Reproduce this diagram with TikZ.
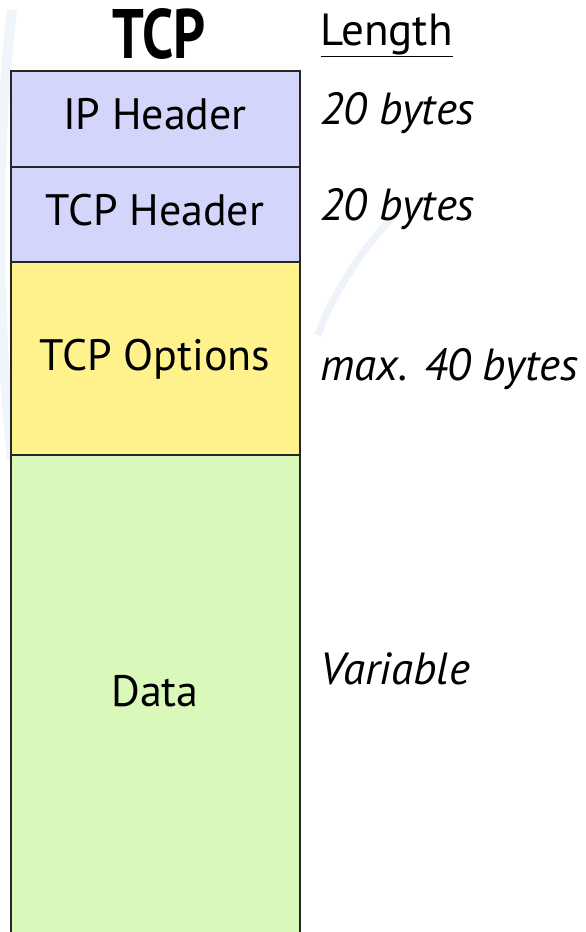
\documentclass[tikz,border=0pt]{standalone}
\usepackage{fontspec}
\setmainfont{PT Sans}
\newfontfamily\titlefont{PT Sans}[FakeStretch=0.8]
\begin{document}
\begin{tikzpicture}[x=1pt,y=-1pt,
  seg/.style={draw=black!85,line width=1.3pt,minimum width=289pt,inner sep=0pt,outer sep=0pt},
  segtext/.style={font=\fontsize{44}{52}\selectfont,anchor=base},
  lentext/.style={font=\fontsize{45}{53}\selectfont\itshape,anchor=base west}]
\definecolor{hdrblue}{RGB}{212,213,250}
\definecolor{optyellow}{RGB}{255,242,140}
\definecolor{datagreen}{RGB}{217,248,186}
\definecolor{swoosh}{RGB}{205,222,240}
\useasboundingbox (0,0) rectangle (586,932);
\fill[white] (0,0) rectangle (586,932);
% faint background swooshes
\draw[swoosh,line width=10pt,opacity=0.3] (12,10) .. controls (-4,150) and (-4,300) .. (12,460);
\draw[swoosh,line width=7pt,opacity=0.35] (395,215) .. controls (360,250) and (330,300) .. (318,335);
% segments
\node[seg,fill=hdrblue,minimum height=96pt,anchor=north west] (ip) at (11,71) {};
\node[seg,fill=hdrblue,minimum height=95pt,anchor=north west] (tcph) at (ip.south west) {};
\node[seg,fill=optyellow,minimum height=193pt,anchor=north west] (opt) at (tcph.south west) {};
\node[fill=datagreen,minimum width=289pt,minimum height=490pt,inner sep=0pt,outer sep=0pt,anchor=north west] (data) at (opt.south west) {};
\draw[black!85,line width=1.3pt] (data.south west) -- (data.north west) -- (data.north east) -- (data.south east);
% texts
\node[font=\fontsize{70}{78}\selectfont\titlefont\bfseries,anchor=base] (title) at (159,58) {TCP};
\node[font=\fontsize{45}{52}\selectfont,anchor=base west] (len) at (317,45) {\underline{Length}};
\node[segtext] (tip) at (155,129) {IP Header};
\node[segtext] (ttcph) at (155,225) {TCP Header};
\node[segtext] (topt) at (155,370) {TCP Options};
\node[segtext] (tdata) at (155,706) {Data};
\node[lentext] (lip) at (317,124) {20 bytes};
\node[lentext] (ltcph) at (317,220) {20 bytes};
\node[lentext] (lopt) at (317,380) {max. 40 bytes};
\node[lentext] (ldata) at (317,684) {Variable};
\end{tikzpicture}
\end{document}
